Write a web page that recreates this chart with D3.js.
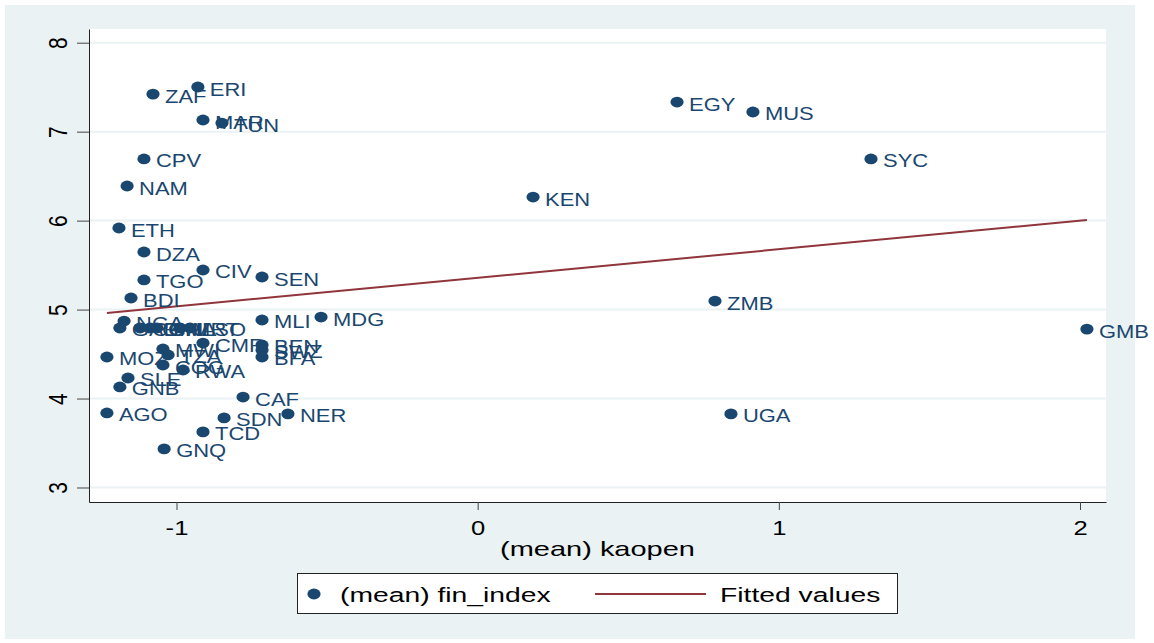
<!DOCTYPE html>
<html>
<head>
<meta charset="utf-8">
<script src="https://cdn.jsdelivr.net/npm/d3@7"></script>
<style>
	body { margin: 0; background: #fff; }
	svg { display: block; font-family: "Liberation Sans", Arial, sans-serif; }
</style>
</head>
<body>
<div id="chart"></div>
<script>
//////////////////////////// data /////////////////////////////////////////

const countries = ["ZAF", "ERI", "MAR", "TUN", "EGY", "MUS", "CPV", "SYC", "NAM", "KEN",
	"ETH", "DZA", "CIV", "TGO", "SEN", "BDI", "ZMB", "GMB", "MDG", "MLI",
	"NGA", "GAB", "COM", "GIN", "GHA", "MRT", "LSO", "CMR", "BEN", "SWZ",
	"BFA", "MOZ", "MWI", "TZA", "COG", "RWA", "SLE", "GNB", "CAF", "AGO",
	"NER", "SDN", "TCD", "GNQ", "UGA"];

const kaopen = [-1.078, -0.929, -0.912, -0.849, 0.662, 0.914, -1.108, 1.306, -1.164, 0.184,
	-1.191, -1.108, -0.912, -1.108, -0.716, -1.151, 0.788, 2.023, -0.520, -0.716,
	-1.174, -1.188, -1.121, -1.088, -1.065, -0.988, -0.955, -0.912, -0.716, -0.716,
	-0.716, -1.231, -1.045, -1.028, -1.045, -0.978, -1.161, -1.188, -0.779, -1.231,
	-0.630, -0.842, -0.912, -1.041, 0.841];

const finIndex = [7.422, 7.502, 7.131, 7.097, 7.333, 7.221, 6.693, 6.693, 6.389, 6.265,
	5.917, 5.647, 5.445, 5.333, 5.366, 5.130, 5.096, 4.781, 4.916, 4.883,
	4.871, 4.793, 4.793, 4.793, 4.793, 4.793, 4.793, 4.624, 4.602, 4.546,
	4.467, 4.467, 4.557, 4.490, 4.377, 4.321, 4.231, 4.130, 4.017, 3.838,
	3.827, 3.782, 3.625, 3.434, 3.827];

// fitted line
const fitIntercept = 5.357;
const fitSlope = 0.321;

const xTicks = [-1, 0, 1, 2];
const yTicks = [3, 4, 5, 6, 7, 8];

const xTitle = "(mean) kaopen";
const legendLabels = ["(mean) fin_index", "Fitted values"];

//////////////////////////// drawing function /////////////////////////////

const createChart = () => {
	const data = countries.map((c, i) => ({ name: c, x: kaopen[i], y: finIndex[i] }));

	let dimensions = {
		width: 1154,
		height: 643,
		margin: { top: 29, right: 48, bottom: 141, left: 89 }
	};
	dimensions.boundedWidth = dimensions.width - dimensions.margin.left - dimensions.margin.right;
	dimensions.boundedHeight = dimensions.height - dimensions.margin.top - dimensions.margin.bottom;

	const navy = "#1a476f";
	const maroon = "#90353b";
	const bg = "#eaf2f3";

	const wrapper = d3.select("#chart").append("svg")
		.attr("width", dimensions.width)
		.attr("height", dimensions.height);

	// outer graph region
	wrapper.append("rect")
		.attr("x", 5).attr("y", 5)
		.attr("width", 1130).attr("height", 634)
		.attr("fill", bg);

	const bounds = wrapper.append("g")
		.attr("transform", `translate(${dimensions.margin.left},${dimensions.margin.top})`);

	bounds.append("rect")
		.attr("width", dimensions.boundedWidth)
		.attr("height", dimensions.boundedHeight)
		.attr("fill", "#fff");

	//////////////////////////// scales ///////////////////////////////////////

	const xScale = d3.scaleLinear()
		.domain([-1.2905, 2.0863])
		.range([0, dimensions.boundedWidth]);

	const yScale = d3.scaleLinear()
		.domain([2.837, 8.154])
		.range([dimensions.boundedHeight, 0]);

	//////////////////////////// grid + axes //////////////////////////////////

	bounds.append("g")
		.selectAll("line")
		.data(yTicks)
		.join("line")
		.attr("x1", 0)
		.attr("x2", dimensions.boundedWidth)
		.attr("y1", (d) => yScale(d))
		.attr("y2", (d) => yScale(d))
		.attr("stroke", bg)
		.attr("stroke-width", 2);

	const xAxisGenerator = d3.axisBottom(xScale)
		.tickValues(xTicks)
		.tickSize(8)
		.tickSizeOuter(0)
		.tickFormat((d) => d);

	const xAxis = bounds.append("g")
		.attr("transform", `translate(0,${dimensions.boundedHeight})`)
		.call(xAxisGenerator);
	xAxis.select(".domain").attr("stroke", "#222");
	xAxis.selectAll(".tick line").attr("stroke", "#444");
	xAxis.selectAll(".tick text")
		.attr("y", 0).attr("dy", 0)
		.attr("transform", "translate(0,33) scale(1.22,1)")
		.attr("font-size", 21)
		.attr("fill", "#000")
		.text((d) => (d < 0 ? "-" + Math.abs(d) : d));

	const yAxisGenerator = d3.axisLeft(yScale)
		.tickValues(yTicks)
		.tickSize(12)
		.tickSizeOuter(0)
		.tickFormat(d3.format("d"));

	const yAxis = bounds.append("g").call(yAxisGenerator);
	yAxis.select(".domain").attr("stroke", "#222");
	yAxis.selectAll(".tick line").attr("stroke", "#444");
	yAxis.selectAll(".tick text")
		.attr("x", 0).attr("dy", 0)
		.attr("transform", "translate(-22,0) scale(1.2,1) rotate(-90)")
		.attr("text-anchor", "middle")
		.attr("font-size", 21)
		.attr("fill", "#000");

	// x title
	wrapper.append("text")
		.attr("transform", `translate(${dimensions.margin.left + dimensions.boundedWidth / 2},556) scale(1.38,1)`)
		.attr("text-anchor", "middle")
		.attr("font-size", 21)
		.attr("fill", "#000")
		.text(xTitle);

	//////////////////////////// fitted line //////////////////////////////////

	const xExtent = d3.extent(kaopen);
	const fitData = xExtent.map((x) => ({ x, y: fitIntercept + fitSlope * x }));

	const lineGenerator = d3.line()
		.x((d) => xScale(d.x))
		.y((d) => yScale(d.y));

	bounds.append("path")
		.datum(fitData)
		.attr("d", lineGenerator)
		.attr("fill", "none")
		.attr("stroke", maroon)
		.attr("stroke-width", 2);

	//////////////////////////// plot /////////////////////////////////////////

	bounds.append("g")
		.selectAll("ellipse")
		.data(data)
		.join("ellipse")
		.attr("cx", (d) => xScale(d.x))
		.attr("cy", (d) => yScale(d.y))
		.attr("rx", 6.6)
		.attr("ry", 5.4)
		.attr("fill", navy);

	bounds.append("g")
		.selectAll("text")
		.data(data)
		.join("text")
		.attr("transform", (d) => `translate(${xScale(d.x) + 12},${yScale(d.y) + 8.5}) scale(1.22,1)`)
		.attr("font-size", 18)
		.attr("fill", navy)
		.text((d) => d.name);

	//////////////////////////// legend ///////////////////////////////////////

	const legend = wrapper.append("g");
	legend.append("rect")
		.attr("x", 297.5).attr("y", 573.5)
		.attr("width", 600).attr("height", 40)
		.attr("fill", "#fff")
		.attr("stroke", "#222");

	legend.append("ellipse")
		.attr("cx", 314).attr("cy", 594)
		.attr("rx", 6.6).attr("ry", 5.4)
		.attr("fill", navy);

	legend.append("line")
		.attr("x1", 595).attr("x2", 706)
		.attr("y1", 594).attr("y2", 594)
		.attr("stroke", maroon)
		.attr("stroke-width", 2);

	legend.selectAll(".legendText")
		.data(legendLabels)
		.join("text")
		.attr("class", "legendText")
		.attr("transform", (d, i) => `translate(${i === 0 ? 340 : 720},602) scale(1.38,1)`)
		.attr("font-size", 20.5)
		.attr("fill", "#000")
		.text((d) => d);
};

createChart();
</script>
</body>
</html>
